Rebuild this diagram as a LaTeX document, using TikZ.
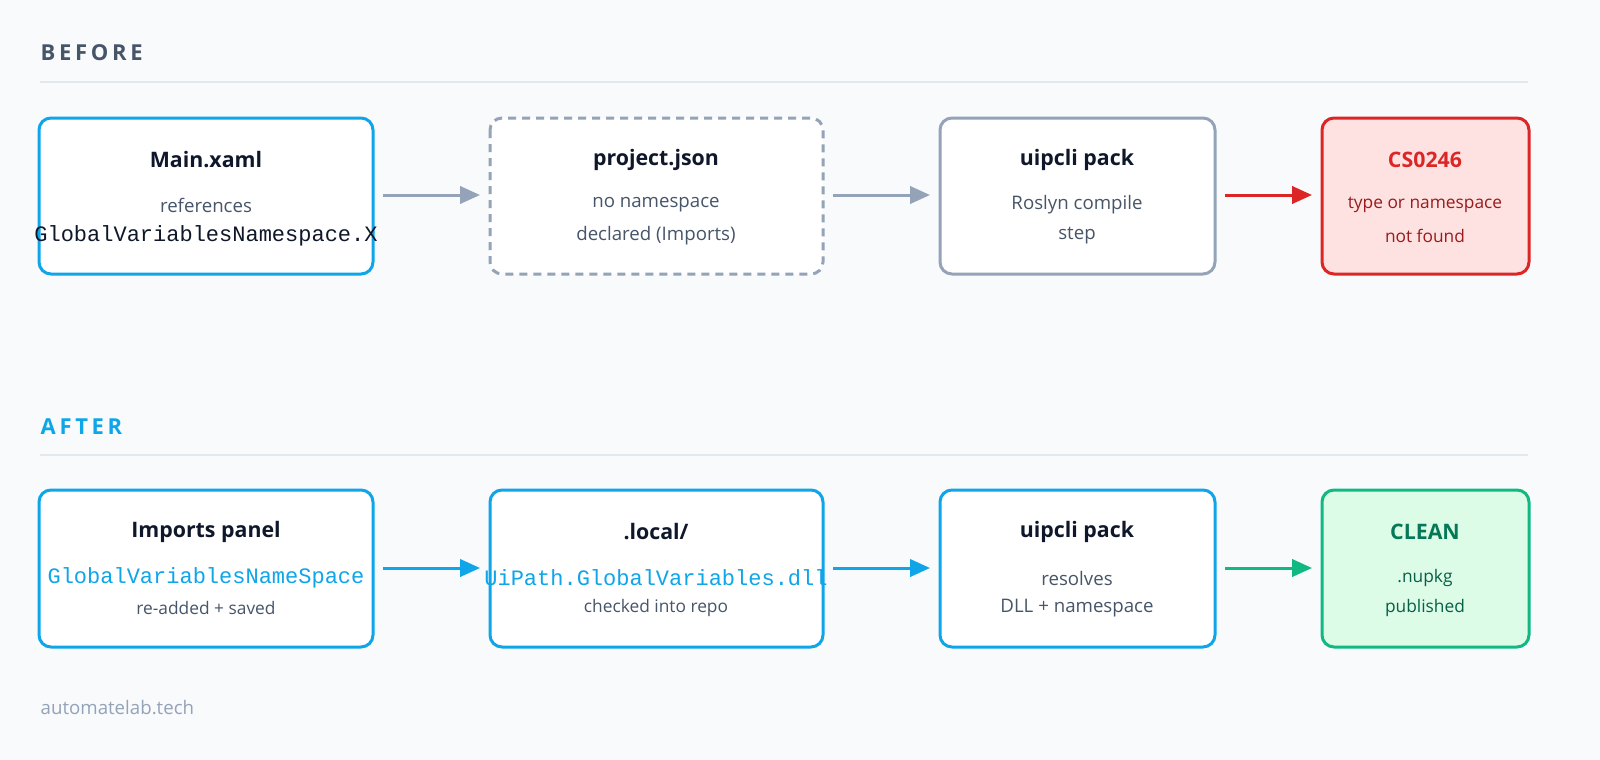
\documentclass[tikz,border=0pt]{standalone}
\usepackage{fontspec}
\setmainfont{Open Sans}
\newfontfamily\monof{Liberation Mono}
\usetikzlibrary{arrows.meta}
\definecolor{bg}{HTML}{F8FAFC}
\definecolor{cblue}{HTML}{0EA5E9}
\definecolor{cgray}{HTML}{94A3B8}
\definecolor{cred}{HTML}{DC2626}
\definecolor{credf}{HTML}{FEE2E2}
\definecolor{cgreen}{HTML}{10B981}
\definecolor{cgreenf}{HTML}{DCFCE7}
\definecolor{tdark}{HTML}{0F172A}
\definecolor{tbody}{HTML}{475569}
\definecolor{crule}{HTML}{E2E8F0}
\definecolor{tredd}{HTML}{991B1B}
\definecolor{tgreend}{HTML}{065F46}
\definecolor{tgreent}{HTML}{047857}
\begin{document}
\begin{tikzpicture}[x=0.75pt,y=-0.75pt,
  box/.style={line width=2.25pt, rounded corners=9pt},
  ttl/.style={font=\fontsize{16}{18}\selectfont\bfseries, text=tdark},
  bod/.style={font=\fontsize{14}{16}\selectfont, text=tbody},
  sbod/.style={font=\fontsize{13}{15}\selectfont},
  mon/.style={font=\monof\fontsize{16.5}{18}\selectfont},
  arr/.style={line width=2.25pt, -{Triangle[length=15pt,width=13pt]}},
  head/.style={font=\fontsize{16.5}{18}\selectfont\bfseries, anchor=west},
]
\fill[bg] (0,0) rectangle (1600,760);
\node[head, text=tbody] (hb) at (36,53) {B\,E\,F\,O\,R\,E};
\draw[crule, line width=1.2pt] (40,82) -- (1528,82);
\node[head, text=cblue] (ha) at (36,427) {A\,F\,T\,E\,R};
\draw[crule, line width=1.2pt] (40,455) -- (1528,455);
% row 1
\draw[box, draw=cblue, fill=white] (39,118) rectangle (373,274);
\draw[box, draw=cgray, fill=white, dash pattern=on 6pt off 4.5pt] (490,118) rectangle (823,274);
\draw[box, draw=cgray, fill=white] (940,118) rectangle (1215,274);
\draw[box, draw=cred, fill=credf] (1322,118) rectangle (1529,274);
\node[ttl] (t1) at (206,160) {Main.xaml};
\node[bod] (t1a) at (206,205) {references};
\node[mon, text=tdark] (t1b) at (206,236) {GlobalVariablesNamespace.X};
\node[ttl] (t2) at (656,160) {project.json};
\node[bod] (t2a) at (656,205) {no namespace};
\node[bod] (t2b) at (656,236) {declared (Imports)};
\node[ttl] (t3) at (1077,160) {uipcli pack};
\node[bod] (t3a) at (1077,205) {Roslyn compile};
\node[bod] (t3b) at (1077,236) {step};
\node[ttl, text=cred] (t4) at (1425,160) {CS0246};
\node[bod, sbod, text=tredd] (t4a) at (1425,205) {type or namespace};
\node[bod, sbod, text=tredd] (t4b) at (1425,236) {not found};
\coordinate (r1a) at (383,195); \coordinate (r1b) at (480,195);
\coordinate (r2a) at (833,195); \coordinate (r2b) at (930,195);
\coordinate (r3a) at (1225,195); \coordinate (r3b) at (1312,195);
\draw[arr, cgray] (r1a) -- (r1b);
\draw[arr, cgray] (r2a) -- (r2b);
\draw[arr, cred] (r3a) -- (r3b);
% row 2
\draw[box, draw=cblue, fill=white] (39,490) rectangle (373,647);
\draw[box, draw=cblue, fill=white] (490,490) rectangle (823,647);
\draw[box, draw=cblue, fill=white] (940,490) rectangle (1215,647);
\draw[box, draw=cgreen, fill=cgreenf] (1322,490) rectangle (1529,647);
\node[ttl] (u1) at (206,532) {Imports panel};
\node[mon, text=cblue] (u1a) at (206,578) {GlobalVariablesNameSpace};
\node[bod, sbod] (u1b) at (206,608) {re-added + saved};
\node[ttl] (u2) at (656,532) {.local/};
\node[mon, text=cblue] (u2a) at (656,578) {UiPath.GlobalVariables.dll};
\node[bod, sbod] (u2b) at (656,608) {checked into repo};
\node[ttl] (u3) at (1077,532) {uipcli pack};
\node[bod] (u3a) at (1077,578) {resolves};
\node[bod] (u3b) at (1077,608) {DLL + namespace};
\node[ttl, text=tgreent] (u4) at (1425,532) {CLEAN};
\node[bod, sbod, text=tgreend] (u4a) at (1425,578) {.nupkg};
\node[bod, sbod, text=tgreend] (u4b) at (1425,608) {published};
\coordinate (s1a) at (383,568); \coordinate (s1b) at (480,568);
\coordinate (s2a) at (833,568); \coordinate (s2b) at (930,568);
\coordinate (s3a) at (1225,568); \coordinate (s3b) at (1312,568);
\draw[arr, cblue] (s1a) -- (s1b);
\draw[arr, cblue] (s2a) -- (s2b);
\draw[arr, cgreen] (s3a) -- (s3b);
\node[font=\fontsize{14}{16}\selectfont, text=cgray, anchor=west] (ft) at (36,708) {automatelab.tech};
\pgfresetboundingbox
\useasboundingbox (0,0) rectangle (1600,760);
\end{tikzpicture}
\end{document}
